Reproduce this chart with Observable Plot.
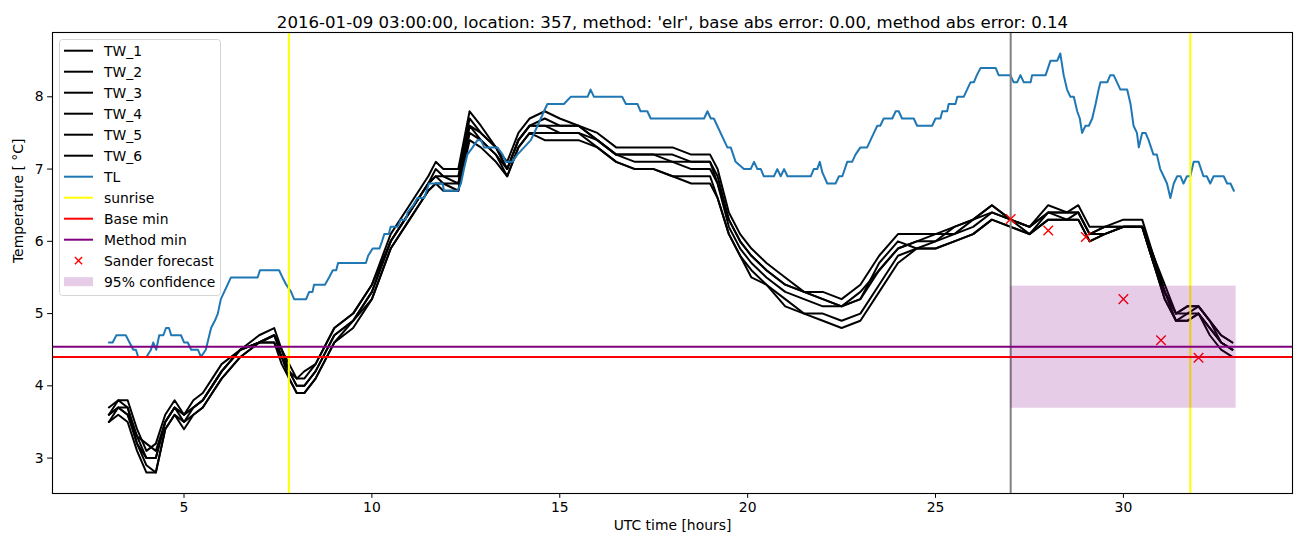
<!DOCTYPE html>
<html>
<head>
<meta charset="utf-8">
<script src="https://cdn.jsdelivr.net/npm/d3@7"></script>
<script src="https://cdn.jsdelivr.net/npm/@observablehq/plot@0.6"></script>
<style>
  html, body { margin: 0; padding: 0; background: white; }
  #chart { width: 1302px; height: 547px; }
</style>
</head>
<body>
<div id="chart"></div>
<script>
// ---------- data ----------
const title = "2016-01-09 03:00:00, location: 357, method: 'elr', base abs error: 0.00, method abs error: 0.14";
const xLabel = "UTC time [hours]";
const yLabel = "Temperature [ °C]";
const xTicks = [5, 10, 15, 20, 25, 30];
const yTicks = [3, 4, 5, 6, 7, 8];

const tw_t = [3.0,3.25,3.5,3.75,4.0,4.25,4.5,4.75,5.0,5.25, 5.5,5.75,6.0,6.5,7.0,7.4,7.6,7.8,8.0,8.2,
  8.5,9.0,9.5,10.0,10.5,11.0,11.5,11.7,11.9,12.3, 12.6,12.9,13.3,13.6,13.9,14.2,14.6,15.0,15.5,16.0,
  16.5,17.0,17.5,18.0,18.5,19.0,19.2,19.5,19.8,20.1, 20.5,21.0,21.5,22.0,22.5,23.0,23.5,24.0,24.5,25.0,
  25.5,26.0,26.5,27.0,27.5,28.0,28.5,28.8,29.1,29.5, 30.0,30.5,30.8,31.1,31.4,31.7,32.0,32.3,32.6,32.9];

const TW_1 = [3.6,3.8,3.7,3.3,3.0,3.0,3.5,3.7,3.6,3.7, 3.8,4.0,4.2,4.5,4.6,4.7,4.5,4.2,4.0,4.0,
  4.2,4.7,4.9,5.3,6.0,6.4,6.8,7.0,6.9,6.9, 7.7,7.5,7.3,7.0,7.4,7.6,7.7,7.6,7.6,7.4,
  7.2,7.2,7.2,7.2,7.1,7.1,6.8,6.3,6.0,5.8, 5.6,5.4,5.3,5.2,5.1,5.3,5.6,5.9,6.0,6.1,
  6.1,6.3,6.4,6.3,6.1,6.4,6.3,6.4,6.1,6.2, 6.2,6.2,5.8,5.3,5.0,5.0,5.0,4.8,4.6,4.5];
const TW_2 = [3.5,3.7,3.6,3.2,2.9,2.8,3.4,3.6,3.5,3.6, 3.7,3.9,4.1,4.4,4.6,4.6,4.4,4.1,3.9,3.9,
  4.1,4.6,4.9,5.2,5.9,6.3,6.7,6.8,6.8,6.7, 7.5,7.4,7.2,6.9,7.3,7.5,7.5,7.5,7.5,7.3,
  7.1,7.0,7.0,6.9,6.9,6.9,6.6,6.1,5.8,5.6, 5.4,5.2,5.0,5.0,4.9,5.0,5.4,5.8,5.9,5.9,
  6.0,6.1,6.3,6.2,6.1,6.3,6.3,6.3,6.0,6.1, 6.2,6.2,5.7,5.2,4.9,4.9,5.0,4.8,4.6,4.5];
const TW_3 = [3.7,3.8,3.8,3.4,3.1,3.2,3.6,3.8,3.6,3.8, 3.9,4.1,4.3,4.5,4.7,4.8,4.5,4.3,4.1,4.2,
  4.3,4.8,5.0,5.4,6.1,6.5,6.9,7.1,7.0,7.0, 7.8,7.6,7.3,7.1,7.5,7.7,7.8,7.7,7.6,7.5,
  7.3,7.3,7.3,7.3,7.2,7.2,7.0,6.4,6.1,5.9, 5.7,5.5,5.3,5.3,5.2,5.4,5.8,6.1,6.1,6.1,
  6.2,6.3,6.5,6.3,6.2,6.5,6.4,6.5,6.2,6.2, 6.3,6.3,5.8,5.4,5.0,5.1,5.1,4.9,4.7,4.6];
const TW_4 = [3.6,3.7,3.7,3.2,3.0,3.0,3.5,3.7,3.5,3.7, 3.8,4.0,4.2,4.5,4.6,4.7,4.4,4.2,4.0,4.0,
  4.2,4.7,4.9,5.3,6.0,6.4,6.8,6.9,6.8,6.8, 7.6,7.4,7.2,7.0,7.4,7.6,7.6,7.5,7.5,7.4,
  7.2,7.1,7.1,7.1,7.0,7.0,6.8,6.2,5.9,5.7, 5.5,5.3,5.2,5.1,5.1,5.2,5.6,5.9,6.0,6.0,
  6.1,6.2,6.4,6.3,6.2,6.4,6.4,6.4,6.1,6.1, 6.2,6.2,5.7,5.3,4.9,5.0,5.1,4.9,4.7,4.6];
const TW_5 = [3.5,3.6,3.5,3.1,2.8,2.8,3.4,3.6,3.4,3.6, 3.7,3.9,4.1,4.4,4.6,4.6,4.3,4.1,3.9,3.9,
  4.1,4.6,4.8,5.2,5.9,6.3,6.7,6.8,6.7,6.7, 7.4,7.3,7.1,6.9,7.3,7.5,7.4,7.4,7.4,7.3,
  7.1,7.0,7.0,6.9,6.8,6.8,6.6,6.1,5.8,5.5, 5.4,5.1,5.0,4.9,4.8,4.9,5.3,5.7,5.9,5.9,
  6.0,6.1,6.3,6.2,6.1,6.3,6.3,6.3,6.0,6.1, 6.2,6.2,5.7,5.2,4.9,4.9,5.0,4.7,4.5,4.4];
const TW_6 = [3.6,3.7,3.6,3.3,3.2,3.1,3.5,3.7,3.6,3.7, 3.8,4.0,4.2,4.5,4.6,4.7,4.5,4.2,4.1,4.1,
  4.3,4.8,5.0,5.4,6.0,6.4,6.8,6.9,6.9,6.8, 7.6,7.5,7.3,7.0,7.4,7.6,7.6,7.6,7.6,7.4,
  7.2,7.2,7.2,7.1,7.1,7.1,6.9,6.3,6.0,5.8, 5.6,5.4,5.3,5.2,5.1,5.2,5.7,6.0,5.9,6.0,
  6.2,6.3,6.5,6.3,6.2,6.4,6.4,6.4,6.1,6.2, 6.2,6.2,5.8,5.3,5.0,5.1,5.1,4.9,4.6,4.5];

const tl_t = [3.0,3.1,3.2,3.45,3.55,3.65,3.72,3.78,4.0,4.12,4.18,4.26,4.34,4.45,4.52,4.6,4.66,4.92,5.0,5.1,
  5.19,5.37,5.45,5.58,5.72,5.82,5.9,5.98,6.07,6.16,6.25,6.96,7.02,7.53,7.62,7.72,7.85,7.93,8.25,8.33,
  8.42,8.46,8.75,8.86,8.96,9.05,9.1,9.84,9.9,10.02,10.2,10.27,10.33,10.45,10.5,10.68,10.77,10.9,10.95,11.1,
  11.21,11.39,11.52,11.88,11.92,12.28,12.37,12.45,12.54,12.68,12.81,12.9,12.99,13.34,13.48,13.56,13.74,13.87,14.05,14.23,
  14.41,14.58,14.67,15.11,15.29,15.74,15.82,15.91,16.66,16.76,17.07,17.15,17.33,17.42,18.84,18.93,19.02,19.1,19.46,19.55,
  19.68,19.9,20.08,20.17,20.26,20.35,20.43,20.7,20.79,20.88,20.97,21.06,21.68,21.76,21.85,21.92,21.99,22.12,22.34,22.43,
  22.52,22.65,22.78,22.87,23.0,23.18,23.27,23.36,23.45,23.53,23.62,23.85,23.94,24.02,24.11,24.42,24.51,24.91,25.0,25.13,
  25.18,25.31,25.35,25.53,25.58,25.75,25.84,25.93,26.02,26.1,26.2,26.6,26.68,26.99,27.08,27.17,27.26,27.35,27.53,27.57,
  27.93,28.06,28.24,28.32,28.41,28.5,28.59,28.68,28.77,28.84,28.9,28.99,29.08,29.17,29.26,29.34,29.39,29.57,29.65,29.74,
  29.83,29.92,30.1,30.19,30.27,30.36,30.41,30.5,30.59,30.67,30.8,30.89,30.98,31.07,31.16,31.25,31.34,31.43,31.52,31.6,
  31.69,31.78,31.87,32.0,32.13,32.22,32.31,32.4,32.67,32.76,32.85,32.94];
const tl_v = [4.6,4.6,4.7,4.7,4.6,4.5,4.5,4.4,4.4,4.5,4.6,4.5,4.7,4.7,4.8,4.8,4.7,4.7,4.6,4.6,
  4.5,4.5,4.4,4.5,4.8,4.9,5.0,5.2,5.3,5.4,5.5,5.5,5.6,5.6,5.5,5.4,5.3,5.2,5.2,5.3,
  5.3,5.4,5.4,5.5,5.6,5.6,5.7,5.7,5.8,5.9,5.9,6.0,6.1,6.1,6.2,6.2,6.3,6.3,6.4,6.5,
  6.6,6.6,6.8,6.8,6.7,6.7,6.8,7.0,7.2,7.3,7.4,7.4,7.3,7.3,7.2,7.1,7.1,7.2,7.3,7.4,
  7.6,7.8,7.9,7.9,8.0,8.0,8.1,8.0,8.0,7.9,7.9,7.8,7.8,7.7,7.7,7.8,7.7,7.7,7.3,7.3,
  7.1,7.0,7.0,7.1,7.0,7.0,6.9,6.9,7.0,6.9,7.0,6.9,6.9,7.0,7.0,7.1,6.95,6.8,6.8,6.9,
  6.9,7.1,7.1,7.2,7.3,7.3,7.4,7.5,7.6,7.6,7.7,7.7,7.8,7.8,7.7,7.7,7.6,7.6,7.7,7.7,
  7.8,7.8,7.9,7.9,8.0,8.0,8.1,8.2,8.2,8.3,8.4,8.4,8.3,8.3,8.2,8.2,8.3,8.2,8.2,8.3,
  8.3,8.5,8.5,8.6,8.3,8.1,8.0,8.0,7.8,7.7,7.5,7.6,7.6,7.7,7.9,8.1,8.2,8.2,8.3,8.3,
  8.2,8.1,8.1,7.9,7.6,7.5,7.3,7.5,7.5,7.4,7.2,7.2,7.0,6.9,6.8,6.6,6.8,6.9,6.9,6.8,
  6.9,6.9,7.1,7.1,6.9,6.9,6.8,6.9,6.9,6.8,6.8,6.7];

const sunrise = [7.79, 31.78];
const forecastStart = [27];
const baseMin = [4.40];
const methodMin = [4.54];
const sander_t = [27, 28, 29, 30, 31, 32];
const sander_v = [6.31, 6.15, 6.06, 5.20, 4.63, 4.39];
const conf_t = [27, 33];
const conf_v = [3.69, 5.38];

// ---------- build tables ----------
const twSeries = {TW_1, TW_2, TW_3, TW_4, TW_5, TW_6};
const tw = [];
for (const [name, vals] of Object.entries(twSeries)) {
  vals.forEach((v, i) => tw.push({series: name, t: tw_t[i], v}));
}
const tl = tl_t.map((t, i) => ({t, v: tl_v[i]}));
const sander = sander_t.map((t, i) => ({t, v: sander_v[i]}));
const conf = [{x1: conf_t[0], x2: conf_t[1], y1: conf_v[0], y2: conf_v[1]}];

const FONT = "DejaVu Sans, sans-serif";
const FS = 13.9;
const LW = 2;

const svg = Plot.plot({
  width: 1302,
  height: 547,
  marginLeft: 52,
  marginRight: 10,
  marginTop: 32,
  marginBottom: 54,
  style: {fontFamily: FONT, fontSize: FS + "px", background: "white", color: "black"},
  x: {domain: [1.5, 34.5]},
  y: {domain: [2.51, 8.89]},
  marks: [
    Plot.line(tw, {x: "t", y: "v", z: "series", stroke: "black", strokeWidth: LW}),
    Plot.line(tl, {x: "t", y: "v", stroke: "#1f77b4", strokeWidth: LW}),
    Plot.ruleX(forecastStart, {stroke: "#808080", strokeWidth: LW}),
    Plot.ruleX(sunrise, {stroke: "#ffff00", strokeWidth: LW}),
    Plot.ruleY(baseMin, {stroke: "#ff0000", strokeWidth: LW}),
    Plot.ruleY(methodMin, {stroke: "#800080", strokeWidth: LW}),
    Plot.dot(sander, {x: "t", y: "v", symbol: "times", r: 4.4, stroke: "#ff0000", strokeWidth: 1.4}),
    Plot.rect(conf, {x1: "x1", x2: "x2", y1: "y1", y2: "y2", fill: "#800080", fillOpacity: 0.2}),
    Plot.frame({stroke: "black", strokeWidth: 1.1}),
    Plot.axisX({ticks: xTicks, tickSize: 4.9, tickPadding: 4, label: null, fontSize: FS, tickFormat: d3.format("d")}),
    Plot.axisY({ticks: yTicks, tickSize: 4.9, tickPadding: 4, label: null, fontSize: FS, tickFormat: d3.format("d")}),
    Plot.text([xLabel], {frameAnchor: "bottom", dy: 36, fontSize: FS}),
    Plot.text([yLabel], {frameAnchor: "left", dx: -34, rotate: -90, fontSize: FS}),
    Plot.text([title], {frameAnchor: "top", dy: -16, fontSize: 16.6})
  ]
});

// ---------- legend (inside axes, upper left) ----------
const legendItems = [
  {label: "TW_1", kind: "line", color: "black"},
  {label: "TW_2", kind: "line", color: "black"},
  {label: "TW_3", kind: "line", color: "black"},
  {label: "TW_4", kind: "line", color: "black"},
  {label: "TW_5", kind: "line", color: "black"},
  {label: "TW_6", kind: "line", color: "black"},
  {label: "TL", kind: "line", color: "#1f77b4"},
  {label: "sunrise", kind: "line", color: "#ffff00"},
  {label: "Base min", kind: "line", color: "#ff0000"},
  {label: "Method min", kind: "line", color: "#800080"},
  {label: "Sander forecast", kind: "x", color: "#ff0000"},
  {label: "95% confidence", kind: "patch", color: "#800080"}
];
const g = d3.select(svg).append("g")
  .attr("font-family", FONT).attr("font-size", FS).attr("text-anchor", "start");
g.append("rect").attr("x", 59.5).attr("y", 39.5).attr("width", 161).attr("height", 256)
  .attr("rx", 3).attr("fill", "white").attr("fill-opacity", 0.8).attr("stroke", "#d5d5d5");
legendItems.forEach((d, i) => {
  const y = 50.7 + 21.0 * i;
  if (d.kind === "line") {
    g.append("line").attr("x1", 64).attr("x2", 93).attr("y1", y).attr("y2", y)
      .attr("stroke", d.color).attr("stroke-width", LW);
  } else if (d.kind === "x") {
    const c = 78.5, s = 3.6;
    g.append("path").attr("d", `M${c-s},${y-s}L${c+s},${y+s}M${c-s},${y+s}L${c+s},${y-s}`)
      .attr("stroke", d.color).attr("stroke-width", 1.4).attr("fill", "none");
  } else {
    g.append("rect").attr("x", 64).attr("y", y - 4.5).attr("width", 29).attr("height", 9)
      .attr("fill", d.color).attr("fill-opacity", 0.2);
  }
  g.append("text").attr("x", 104).attr("y", y).attr("dy", "0.35em")
    .attr("text-anchor", "start").attr("fill", "black").text(d.label);
});

document.getElementById("chart").appendChild(svg);
</script>
</body>
</html>
